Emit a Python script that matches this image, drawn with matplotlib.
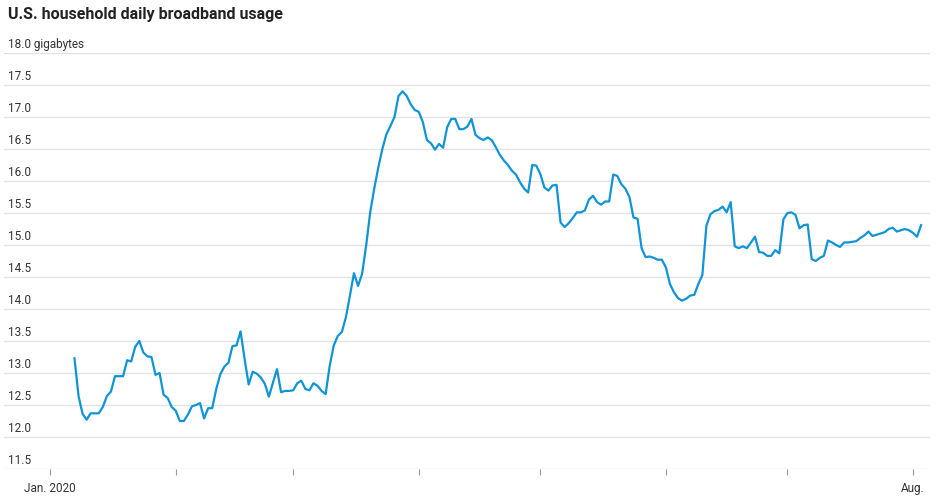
import matplotlib
matplotlib.use("Agg")
import matplotlib.pyplot as plt
import matplotlib.dates as mdates
import matplotlib.transforms as mtransforms
import pandas as pd

# daily values, gigabytes (Jan 7 - Aug 3, 2020)
jan = [13.23, 12.64, 12.36, 12.27, 12.37, 12.37, 12.37, 12.47, 12.64, 12.71,
       12.95, 12.95, 12.95, 13.20, 13.18, 13.41, 13.50, 13.32, 13.26, 13.25,
       12.97, 13.00, 12.66, 12.61, 12.47]
feb = [12.41, 12.25, 12.25, 12.35, 12.48, 12.50, 12.53, 12.29, 12.45, 12.45,
       12.75, 12.98, 13.10, 13.16, 13.42, 13.43, 13.65, 13.22, 12.82, 13.02,
       12.99, 12.93, 12.83, 12.63, 12.85, 13.06, 12.70, 12.72, 12.72]
mar = [12.73, 12.84, 12.88, 12.75, 12.73, 12.84, 12.80, 12.72, 12.67, 13.11,
       13.43, 13.58, 13.64, 13.87, 14.21, 14.56, 14.36, 14.55, 14.99, 15.51,
       15.88, 16.21, 16.50, 16.73, 16.86, 17.00, 17.33, 17.40, 17.33, 17.20,
       17.11]
apr = [17.08, 16.92, 16.64, 16.59, 16.49, 16.58, 16.52, 16.84, 16.97, 16.97,
       16.81, 16.81, 16.85, 16.97, 16.72, 16.67, 16.64, 16.68, 16.64, 16.53,
       16.41, 16.32, 16.25, 16.16, 16.10, 15.98, 15.88, 15.82, 16.25, 16.24]
may = [16.11, 15.90, 15.85, 15.93, 15.94, 15.35, 15.28, 15.34, 15.42, 15.51,
       15.51, 15.54, 15.71, 15.77, 15.67, 15.63, 15.68, 15.68, 16.10, 16.08,
       15.95, 15.88, 15.75, 15.43, 15.41, 14.95, 14.81, 14.82, 14.80, 14.77,
       14.77]
jun = [14.65, 14.39, 14.26, 14.17, 14.13, 14.16, 14.21, 14.22, 14.39, 14.53,
       15.30, 15.48, 15.53, 15.55, 15.60, 15.51, 15.67, 14.98, 14.95, 14.98,
       14.95, 15.04, 15.13, 14.89, 14.88, 14.83, 14.83, 14.92, 14.87, 15.40]
jul = [15.50, 15.51, 15.47, 15.26, 15.31, 15.32, 14.78, 14.75, 14.80, 14.83,
       15.07, 15.04, 15.00, 14.97, 15.04, 15.04, 15.05, 15.06, 15.11, 15.15,
       15.21, 15.14, 15.16, 15.18, 15.20, 15.25, 15.27, 15.21, 15.23, 15.25,
       15.23]
aug = [15.19, 15.13, 15.31]

usage = jan + feb + mar + apr + may + jun + jul + aug
dates = pd.date_range("2020-01-07", periods=len(usage), freq="D")

y_ticks = [11.5, 12.0, 12.5, 13.0, 13.5, 14.0, 14.5, 15.0, 15.5, 16.0,
           16.5, 17.0, 17.5, 18.0]
month_labels = ["Jan. 2020", "", "", "", "", "", "", "Aug."]

fig = plt.figure(figsize=(9.36, 5.02), dpi=100)
ax = fig.add_axes([4 / 936, 32 / 502, 926 / 936, 416 / 502])

ax.plot(dates, usage, color="#0f94d6", linewidth=1.6, solid_joinstyle="round", zorder=3)

ax.set_ylim(11.5, 18.0)
ax.set_xlim(pd.Timestamp("2020-01-01") - pd.Timedelta(days=11.4),
            pd.Timestamp("2020-08-01") + pd.Timedelta(days=4.2))

# horizontal grid
ax.set_yticks(y_ticks)
ax.yaxis.grid(True, color="#e2e2e2", linewidth=1.0)
ax.set_axisbelow(True)
for s in ax.spines.values():
    s.set_visible(False)

ylabels = [f"{t:.1f}" for t in y_ticks]
ylabels[-1] = "18.0 gigabytes"
ax.set_yticklabels(ylabels)
ax.tick_params(axis="y", length=0, pad=-3, labelsize=8.5, labelcolor="#333333")
offset = mtransforms.ScaledTranslation(0, 3 / 100, fig.dpi_scale_trans)
for lab in ax.get_yticklabels():
    lab.set_horizontalalignment("left")
    lab.set_verticalalignment("bottom")
    lab.set_transform(lab.get_transform() + offset)

# month ticks
ax.xaxis.set_major_locator(mdates.MonthLocator())
ax.set_xticks(ax.get_xticks())
ax.set_xticklabels(month_labels)
ax.tick_params(axis="x", length=4, width=0.8, color="#999999", pad=5,
               labelsize=8.5, labelcolor="#333333")

for lab in ax.get_xticklabels() + ax.get_yticklabels():
    lab.set_family("Roboto")

fig.text(8 / 936, 1 - 15 / 502, "U.S. household daily broadband usage",
         fontsize=11.5, fontweight="bold", family="Roboto", color="#222222",
         va="center", ha="left")

fig.savefig("out.png", dpi=100)
